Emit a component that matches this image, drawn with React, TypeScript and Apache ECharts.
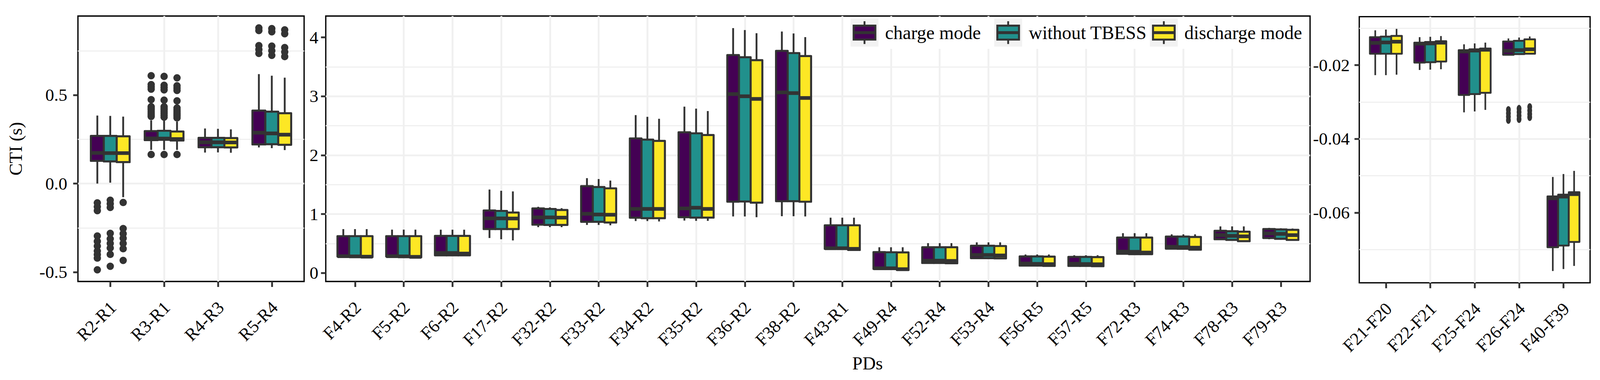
import React, { useEffect, useRef } from 'react';
import * as echarts from 'echarts';

// ---------------- data ----------------
const MODES = ['charge mode', 'without TBESS', 'discharge mode'];
const MODE_COLORS = ['#440154', '#21908C', '#FDE725'];
const Y_TITLE = 'CTI (s)';
const X_TITLE = 'PDs';

const CATS_R = ['R2-R1', 'R3-R1', 'R4-R3', 'R5-R4'];
const CATS_F = ['F4-R2', 'F5-R2', 'F6-R2', 'F17-R2', 'F32-R2', 'F33-R2', 'F34-R2', 'F35-R2', 'F36-R2', 'F38-R2',
  'F43-R1', 'F49-R4', 'F52-R4', 'F53-R4', 'F56-R5', 'F57-R5', 'F72-R3', 'F74-R3', 'F78-R3', 'F79-R3'];
const CATS_FF = ['F21-F20', 'F22-F21', 'F25-F24', 'F26-F24', 'F40-F39'];

// each row: [lower whisker, Q1, median, Q3, upper whisker]
const R_CHARGE = [
  [0.0, 0.128, 0.173, 0.269, 0.384],
  [0.19, 0.245, 0.255, 0.296, 0.357],
  [0.175, 0.205, 0.233, 0.258, 0.311],
  [0.204, 0.221, 0.287, 0.412, 0.618],
];
const R_WITHOUT = [
  [0.005, 0.125, 0.172, 0.269, 0.382],
  [0.19, 0.247, 0.254, 0.298, 0.355],
  [0.176, 0.205, 0.233, 0.258, 0.309],
  [0.2, 0.222, 0.283, 0.406, 0.609],
];
const R_DISCHARGE = [
  [-0.077, 0.121, 0.172, 0.267, 0.378],
  [0.19, 0.243, 0.251, 0.294, 0.35],
  [0.174, 0.204, 0.232, 0.257, 0.306],
  [0.189, 0.219, 0.276, 0.397, 0.598],
];
const R_CHARGE_OUT = [
  [-0.109, -0.131, -0.153, -0.296, -0.326, -0.353, -0.381, -0.401, -0.421, -0.487],
  [0.164, 0.379, 0.388, 0.397, 0.406, 0.416, 0.425, 0.434, 0.474, 0.533, 0.546, 0.559, 0.609],
  [],
  [0.879, 0.864, 0.779, 0.757, 0.735],
];
const R_WITHOUT_OUT = [
  [-0.094, -0.114, -0.135, -0.281, -0.312, -0.338, -0.364, -0.4, -0.467],
  [0.164, 0.375, 0.385, 0.397, 0.406, 0.416, 0.425, 0.434, 0.471, 0.529, 0.542, 0.555, 0.605],
  [],
  [0.875, 0.857, 0.776, 0.75, 0.724],
];
const R_DISCHARGE_OUT = [
  [-0.107, -0.254, -0.283, -0.309, -0.338, -0.368, -0.434],
  [0.164, 0.371, 0.381, 0.39, 0.399, 0.408, 0.417, 0.427, 0.467, 0.526, 0.539, 0.552, 0.597],
  [],
  [0.868, 0.846, 0.768, 0.743, 0.717],
];

const F_CHARGE = [
  [0.275, 0.28, 0.285, 0.626, 0.745],
  [0.275, 0.28, 0.285, 0.626, 0.736],
  [0.29, 0.3, 0.34, 0.63, 0.735],
  [0.594, 0.746, 0.927, 1.062, 1.417],
  [0.778, 0.82, 0.944, 1.096, 1.124],
  [0.816, 0.869, 1.005, 1.474, 1.61],
  [0.882, 0.939, 1.088, 2.285, 2.68],
  [0.89, 0.947, 1.096, 2.388, 2.824],
  [0.96, 1.211, 3.037, 3.7, 4.157],
  [0.964, 1.219, 3.066, 3.77, 4.099],
  [0.4, 0.41, 0.42, 0.81, 0.939],
  [0.06, 0.07, 0.08, 0.355, 0.437],
  [0.16, 0.17, 0.21, 0.437, 0.507],
  [0.245, 0.252, 0.306, 0.462, 0.52],
  [0.12, 0.125, 0.161, 0.281, 0.314],
  [0.115, 0.12, 0.157, 0.273, 0.301],
  [0.32, 0.326, 0.364, 0.602, 0.676],
  [0.405, 0.413, 0.445, 0.618, 0.656],
  [0.565, 0.573, 0.643, 0.717, 0.791],
  [0.573, 0.594, 0.672, 0.746, 0.766],
];
const F_WITHOUT = [
  [0.27, 0.275, 0.282, 0.626, 0.745],
  [0.27, 0.275, 0.282, 0.626, 0.736],
  [0.29, 0.3, 0.34, 0.63, 0.735],
  [0.573, 0.746, 0.927, 1.054, 1.396],
  [0.778, 0.816, 0.944, 1.087, 1.114],
  [0.816, 0.869, 0.993, 1.46, 1.595],
  [0.882, 0.93, 1.088, 2.264, 2.651],
  [0.885, 0.94, 1.108, 2.371, 2.79],
  [0.96, 1.214, 3.0, 3.663, 4.124],
  [0.964, 1.219, 3.054, 3.733, 4.066],
  [0.4, 0.41, 0.42, 0.81, 0.939],
  [0.06, 0.07, 0.08, 0.352, 0.437],
  [0.16, 0.17, 0.21, 0.437, 0.507],
  [0.245, 0.252, 0.306, 0.462, 0.52],
  [0.12, 0.125, 0.155, 0.281, 0.314],
  [0.115, 0.12, 0.152, 0.273, 0.301],
  [0.315, 0.32, 0.36, 0.602, 0.676],
  [0.4, 0.41, 0.44, 0.618, 0.656],
  [0.555, 0.561, 0.63, 0.71, 0.791],
  [0.565, 0.58, 0.664, 0.74, 0.76],
];
const F_DISCHARGE = [
  [0.265, 0.27, 0.277, 0.626, 0.745],
  [0.262, 0.267, 0.274, 0.626, 0.736],
  [0.29, 0.3, 0.33, 0.63, 0.735],
  [0.553, 0.746, 0.925, 1.026, 1.385],
  [0.778, 0.816, 0.94, 1.07, 1.1],
  [0.81, 0.857, 0.989, 1.437, 1.569],
  [0.875, 0.93, 1.088, 2.243, 2.618],
  [0.885, 0.94, 1.088, 2.342, 2.749],
  [0.947, 1.194, 2.955, 3.613, 4.07],
  [0.96, 1.21, 2.971, 3.683, 4.004],
  [0.38, 0.39, 0.41, 0.81, 0.939],
  [0.045, 0.05, 0.065, 0.35, 0.437],
  [0.155, 0.165, 0.205, 0.437, 0.507],
  [0.24, 0.248, 0.298, 0.458, 0.52],
  [0.115, 0.12, 0.15, 0.278, 0.314],
  [0.11, 0.115, 0.148, 0.27, 0.301],
  [0.315, 0.32, 0.347, 0.602, 0.676],
  [0.39, 0.396, 0.43, 0.612, 0.656],
  [0.533, 0.54, 0.622, 0.701, 0.791],
  [0.55, 0.561, 0.643, 0.733, 0.755],
];

const FF_CHARGE = [
  [-0.0227, -0.0169, -0.01396, -0.0124, -0.01054],
  [-0.0213, -0.01929, -0.01417, -0.01388, -0.0124],
  [-0.03279, -0.02806, -0.01629, -0.01593, -0.01434],
  [-0.0173, -0.01717, -0.01611, -0.01357, -0.01275],
  [-0.07581, -0.06937, -0.05609, -0.05557, -0.05031],
];
const FF_WITHOUT = [
  [-0.0227, -0.0169, -0.01383, -0.01225, -0.01034],
  [-0.0212, -0.0192, -0.0141, -0.0137, -0.0123],
  [-0.03254, -0.02784, -0.01604, -0.01569, -0.0141],
  [-0.0171, -0.017, -0.0159, -0.01338, -0.0125],
  [-0.07528, -0.0689, -0.05563, -0.0551, -0.04951],
];
const FF_DISCHARGE = [
  [-0.02257, -0.0169, -0.01363, -0.01206, -0.01015],
  [-0.0211, -0.019, -0.0139, -0.0135, -0.0121],
  [-0.03212, -0.02749, -0.01582, -0.01547, -0.01388],
  [-0.0169, -0.01689, -0.01569, -0.013, -0.01222],
  [-0.07443, -0.06792, -0.05497, -0.05444, -0.04866],
];
const FF_CHARGE_OUT = [[], [], [], [-0.03209, -0.03307, -0.03395, -0.03491], []];
const FF_WITHOUT_OUT = [[], [], [], [-0.03177, -0.03272, -0.03371, -0.03466], []];
const FF_DISCHARGE_OUT = [[], [], [], [-0.0313, -0.0323, -0.03325, -0.03413], []];

const Y_RANGE_R = [-0.553, 0.946];
const Y_RANGE_F = [-0.144, 4.362];
const Y_RANGE_FF = [-0.079, -0.00685];
const Y_TICKS_R = [-0.5, 0, 0.5];
const Y_TICK_LABELS_R = ['-0.5', '0.0', '0.5'];
const Y_TICKS_F = [0, 1, 2, 3, 4];
const Y_TICK_LABELS_F = ['0', '1', '2', '3', '4'];
const Y_TICKS_FF = [-0.06, -0.04, -0.02];
const Y_TICK_LABELS_FF = ['-0.06', '-0.04', '-0.02'];

// ---------------- layout / style (reference pixels, 4358 x 972) ----------------
const REF_W = 4358;
const REF_H = 972;
const FONT = "'Liberation Serif', 'DejaVu Serif', serif";
const GRID_COLOR = '#F0F0F0';
const LINE = '#333333';
const BOX_W = 0.24;
const MODE_OFFSETS = [-0.24, 0, 0.24];

const GRIDS = [
  { left: 212.3, top: 41, width: 616, height: 679 },
  { left: 887.3, top: 41, width: 2681, height: 679 },
  { left: 3702.3, top: 42.7, width: 628.7, height: 680.6 },
];
const Y_LABEL_MARGIN = [29, 20, 26];
const X_LABEL_DX = 8;
const X_LABEL_MARGIN = 59;

const PANELS = [
  { cats: CATS_R, stats: [R_CHARGE, R_WITHOUT, R_DISCHARGE], out: [R_CHARGE_OUT, R_WITHOUT_OUT, R_DISCHARGE_OUT],
    yRange: Y_RANGE_R, yInterval: 0.5, yTicks: Y_TICKS_R, yLabels: Y_TICK_LABELS_R },
  { cats: CATS_F, stats: [F_CHARGE, F_WITHOUT, F_DISCHARGE], out: [[], [], []] as number[][][],
    yRange: Y_RANGE_F, yInterval: 1, yTicks: Y_TICKS_F, yLabels: Y_TICK_LABELS_F },
  { cats: CATS_FF, stats: [FF_CHARGE, FF_WITHOUT, FF_DISCHARGE], out: [FF_CHARGE_OUT, FF_WITHOUT_OUT, FF_DISCHARGE_OUT],
    yRange: Y_RANGE_FF, yInterval: 0.02, yTicks: Y_TICKS_FF, yLabels: Y_TICK_LABELS_FF },
];

const LEGEND_KEY_X = [2316.7, 2708, 3132];
const LEGEND_TOP = 47.7;
const KEY_SIZE = 76;

function buildOption(W: number, H: number): any {
  const sx = W / REF_W;
  const sy = H / REF_H;
  const sf = Math.min(sx, sy);
  const X = (v: number) => v * sx;
  const Y = (v: number) => v * sy;
  const F = (v: number) => v * sf;
  const font = (size: number) => `${F(size)}px ${FONT}`;

  const boxRenderer = (color: string, st: { box: number; whisk: number; med: number }) => (params: any, api: any) => {
    const x = api.value(0);
    const lo = api.coord([x, api.value(1)]);
    const q1 = api.coord([x, api.value(2)]);
    const md = api.coord([x, api.value(3)]);
    const q3 = api.coord([x, api.value(4)]);
    const hi = api.coord([x, api.value(5)]);
    const w = api.size([BOX_W, 0])[0];
    const cx = q1[0];
    const l = cx - w / 2;
    const line = (x1: number, y1: number, x2: number, y2: number, lw: number) => ({
      type: 'line', shape: { x1, y1, x2, y2 }, style: { stroke: LINE, lineWidth: F(lw), lineCap: 'butt' },
    });
    return {
      type: 'group',
      children: [
        line(cx, q3[1], cx, hi[1], st.whisk),
        line(cx, q1[1], cx, lo[1], st.whisk),
        { type: 'rect', shape: { x: l, y: q3[1], width: w, height: q1[1] - q3[1] },
          style: { fill: color, stroke: LINE, lineWidth: F(st.box), lineJoin: 'round' } },
        line(l, md[1], l + w, md[1], st.med),
      ],
    };
  };

  const legendKey = (j: number): any[] => {
    const kx = X(LEGEND_KEY_X[j]);
    const ky = Y(LEGEND_TOP);
    const ks = F(KEY_SIZE);
    const cx = kx + ks / 2;
    const cy = ky + ks / 2;
    return [
      { type: 'rect', z: 100, silent: true, shape: { x: kx, y: ky, width: ks, height: ks }, style: { fill: '#F2F2F2' } },
      { type: 'line', z: 101, silent: true, shape: { x1: cx, y1: cy - F(31), x2: cx, y2: cy + F(31) }, style: { stroke: LINE, lineWidth: F(5) } },
      { type: 'rect', z: 102, silent: true, shape: { x: cx - F(29.5), y: cy - F(19), width: F(59), height: F(38) },
        style: { fill: MODE_COLORS[j], stroke: LINE, lineWidth: F(5.5) } },
      { type: 'line', z: 103, silent: true, shape: { x1: cx - F(29.5), y1: cy, x2: cx + F(29.5), y2: cy }, style: { stroke: LINE, lineWidth: F(8) } },
      { type: 'text', z: 103, silent: true, x: kx + ks + X(18), y: cy,
        style: { text: MODES[j], font: font(51), fill: '#000', align: 'left', textAlign: 'left', verticalAlign: 'middle', textVerticalAlign: 'middle' } },
    ];
  };

  const grid = GRIDS.map((g) => ({
    left: X(g.left), top: Y(g.top), width: X(g.width), height: Y(g.height),
    show: true, borderColor: '#000', borderWidth: F(3.5), containLabel: false, outerBoundsMode: 'none',
  }));

  const xAxis = PANELS.map((p, k) => {
    const n = p.cats.length;
    const pxPerUnit = X(GRIDS[k].width) / (n + 0.2);
    const dx = X(X_LABEL_DX) / pxPerUnit;
    const idx = p.cats.map((_, i) => i);
    return {
      type: 'value', gridIndex: k, position: 'bottom', min: -0.6, max: n - 0.4, minInterval: 1, maxInterval: 1,
      axisLine: { show: false, onZero: false },
      axisTick: { show: true, length: Y(14), customValues: idx, lineStyle: { color: LINE, width: F(5) } },
      axisLabel: {
        customValues: idx.map((i) => i + dx), rotate: 45, margin: Y(X_LABEL_MARGIN), fontSize: F(48), color: '#000', fontFamily: FONT,
        formatter: (v: number) => p.cats[Math.round(v)] ?? '',
      },
      splitLine: { show: true, showMinLine: false, showMaxLine: false, lineStyle: { color: GRID_COLOR, width: F(5) } },
      minorTick: { show: false },
      minorSplitLine: { show: false },
    };
  });

  const yAxis = PANELS.map((p, k) => ({
    type: 'value', gridIndex: k, position: 'left', min: p.yRange[0], max: p.yRange[1], minInterval: p.yInterval, maxInterval: p.yInterval,
    axisLine: { show: false, onZero: false },
    axisTick: { show: true, length: X(13), customValues: p.yTicks, lineStyle: { color: LINE, width: F(5) } },
    axisLabel: {
      customValues: p.yTicks, margin: X(Y_LABEL_MARGIN[k]), fontSize: F(48), color: '#000', fontFamily: FONT,
      formatter: (v: number) => {
        const j = p.yTicks.findIndex((t) => Math.abs(t - v) < 1e-9);
        return j >= 0 ? p.yLabels[j] : '';
      },
    },
    splitLine: { show: true, showMinLine: false, showMaxLine: false, lineStyle: { color: GRID_COLOR, width: F(5) } },
    minorTick: { show: false, splitNumber: 2 },
    minorSplitLine: { show: true, lineStyle: { color: GRID_COLOR, width: F(3) } },
  }));

  const series: any[] = [];
  PANELS.forEach((p, k) => {
    const st = k === 2 ? { box: 5, whisk: 4.5, med: 10 } : { box: 5.5, whisk: 5, med: 10 };
    MODES.forEach((m, j) => {
      series.push({
        type: 'custom', name: m, xAxisIndex: k, yAxisIndex: k, clip: false, z: 2, silent: true,
        data: p.stats[j].map((s, i) => [i + MODE_OFFSETS[j], ...s]),
        encode: { x: 0, y: [1, 2, 3, 4, 5] },
        renderItem: boxRenderer(MODE_COLORS[j], st),
      });
      const outs = p.out[j] || [];
      const pts: number[][] = [];
      outs.forEach((arr, i) => (arr || []).forEach((v) => pts.push([i + MODE_OFFSETS[j], v])));
      if (pts.length) {
        series.push({
          type: 'scatter', name: m, xAxisIndex: k, yAxisIndex: k, z: 3, silent: true,
          symbol: 'circle', symbolSize: k === 2 ? [F(13), F(20)] : F(20),
          itemStyle: { color: LINE, opacity: 1, borderWidth: 0 },
          data: pts,
        });
      }
    });
  });

  const graphic: any[] = [
    { type: 'rect', z: 99, silent: true, shape: { x: X(2312), y: Y(45), width: X(1254), height: Y(80) }, style: { fill: '#ffffff' } },
    ...MODES.map((_, j) => legendKey(j)).flat(),
    { type: 'text', z: 100, silent: true, x: X(2363), y: Y(929),
      style: { text: X_TITLE, font: font(50), fill: '#000', align: 'center', textAlign: 'center', verticalAlign: 'middle', textVerticalAlign: 'middle' } },
    { type: 'text', z: 100, silent: true, x: X(43), y: Y(380.5), rotation: Math.PI / 2,
      style: { text: Y_TITLE, font: font(50), fill: '#000', align: 'center', textAlign: 'center', verticalAlign: 'middle', textVerticalAlign: 'middle' } },
  ];

  return {
    animation: false,
    backgroundColor: '#ffffff',
    textStyle: { fontFamily: FONT },
    grid, xAxis, yAxis, series, graphic,
  };
}

export default function App() {
  const ref = useRef<HTMLDivElement>(null);
  useEffect(() => {
    const el = ref.current;
    if (!el) return;
    const W = el.clientWidth || REF_W;
    const H = el.clientHeight || REF_H;
    const chart = echarts.init(el, undefined, { renderer: 'svg', width: W, height: H });
    chart.setOption(buildOption(W, H));
    return () => chart.dispose();
  }, []);
  return <div ref={ref} style={{ position: 'fixed', left: 0, top: 0, width: '100vw', height: '100vh' }} />;
}
